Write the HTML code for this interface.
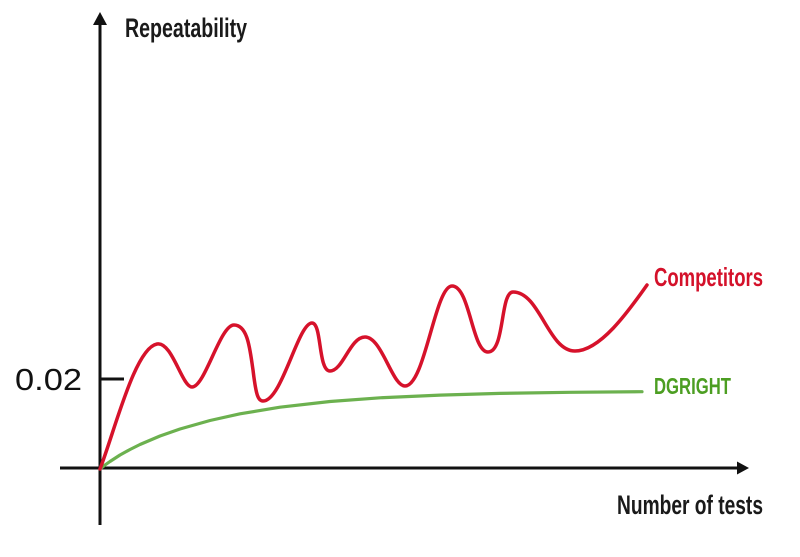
<!DOCTYPE html>
<html>
<head>
<meta charset="utf-8">
<style>
  html, body { margin: 0; padding: 0; background: #ffffff; }
  body { width: 800px; height: 557px; overflow: hidden; }
  svg { display: block; }
  .lbl { font-family: "Liberation Sans", sans-serif; font-weight: bold; }
</style>
</head>
<body>
<svg width="800" height="557" viewBox="0 0 800 557" xmlns="http://www.w3.org/2000/svg">
  <rect width="800" height="557" fill="#ffffff"/>

  <!-- Y axis -->
  <line x1="100" y1="22" x2="100" y2="525" stroke="#111" stroke-width="3"/>
  <polygon points="100,12 93,25 107,25" fill="#111"/>

  <!-- X axis -->
  <line x1="60" y1="468" x2="740" y2="468" stroke="#111" stroke-width="3"/>
  <polygon points="749,468 737,461.5 737,474.5" fill="#111"/>

  <!-- tick 0.02 -->
  <line x1="100" y1="379" x2="124" y2="379" stroke="#111" stroke-width="3"/>
  <text x="15" y="390" font-family="Liberation Sans, sans-serif" font-size="31" fill="#111" textLength="67" lengthAdjust="spacingAndGlyphs">0.02</text>

  <!-- Green DGRIGHT curve -->
  <polyline points="100,469 105,465 110,461.5 120,455 130,449.5 140,444.5 160,436 180,429 210,420.5 240,413.8 280,407.2 330,401.5 380,397.8 440,395.1 500,393.4 570,392.3 642,391.7"
        fill="none" stroke="#6cb14f" stroke-width="3.2" stroke-linecap="round" stroke-linejoin="round"/>

  <!-- Red Competitors curve -->
  <path d="M100,469
           C115,430 135,348 157,344
           C172,341 182,387 192,387
           C205,387 220,325 234,325
           C248,325 250,350 253,370
           C256,395 258,401 263,401
           C282,401 298,323 312,323
           C322,323 318,371 330,371
           C343,371 350,337 365,337
           C382,337 392,386 405,386
           C425,386 435,286 452,286
           C470,286 472,352 488,352
           C505,352 500,292 513,292
           C540,292 548,351 575,351
           C600,351 628,312 647,285"
        fill="none" stroke="#d6122b" stroke-width="3.5" stroke-linecap="round" stroke-linejoin="round"/>

  <!-- Labels -->
  <text class="lbl" x="125" y="37" font-size="27" fill="#1a1a1a" textLength="122" lengthAdjust="spacingAndGlyphs">Repeatability</text>
  <text class="lbl" x="617" y="514" font-size="27" fill="#1a1a1a" textLength="146" lengthAdjust="spacingAndGlyphs">Number of tests</text>
  <text class="lbl" x="654" y="286" font-size="26" fill="#d4112a" textLength="109" lengthAdjust="spacingAndGlyphs">Competitors</text>
  <text class="lbl" x="654" y="394" font-size="23.5" fill="#4c9e22" textLength="77" lengthAdjust="spacingAndGlyphs">DGRIGHT</text>
</svg>
</body>
</html>
